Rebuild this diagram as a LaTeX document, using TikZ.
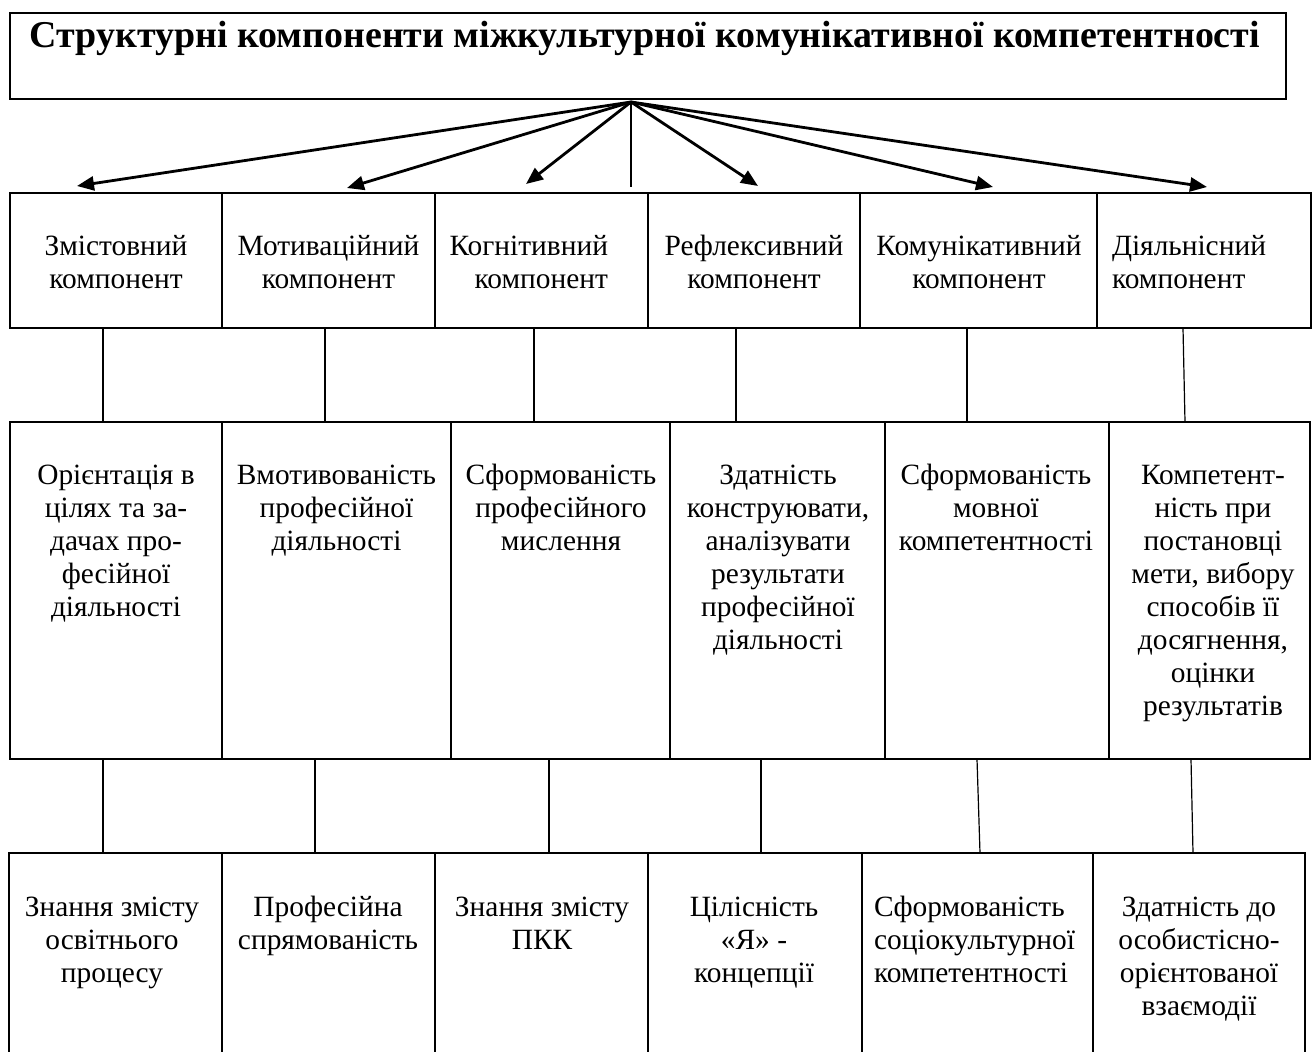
\documentclass[tikz,border=0pt]{standalone}
\usepackage{fontspec}
\setmainfont{Liberation Serif}
\usetikzlibrary{arrows.meta}
\tikzset{
  cell/.style={draw, line width=2pt, inner sep=0pt, outer sep=0pt, anchor=north west},
  lbl/.style={inner sep=0pt, outer sep=0pt, font=\fontsize{29.4}{33}\selectfont},
  ttl/.style={inner sep=0pt, outer sep=0pt, font=\fontsize{37.9}{42}\selectfont\bfseries},
  bigarrow/.style={line width=2.8pt, -{Triangle[length=17pt,width=14pt]}},
  link/.style={line width=1.2pt}
}
\newcommand{\cellbox}[5]{\node[cell, minimum width={#4-#2}, minimum height={#5-#3}] (#1) at (#2,#3) {};}
\begin{document}
\begin{tikzpicture}[x=1pt,y=-1pt]
\clip (0,0) rectangle (1312,1052);
\fill[white] (0,0) rectangle (1312,1052);
% title
\cellbox{title}{10}{13}{1286}{99}
\node[ttl, anchor=base] (titletext) at (645,47) {Структурні компоненти міжкультурної комунікативної компетентності};
% row 1
\cellbox{r1a}{10}{193}{222}{328}
\cellbox{r1b}{222}{193}{435}{328}
\cellbox{r1c}{435}{193}{648}{328}
\cellbox{r1d}{648}{193}{860}{328}
\cellbox{r1e}{860}{193}{1097}{328}
\cellbox{r1f}{1097}{193}{1311}{328}
\node[lbl, anchor=base] (t1a) at (116,255) {\begin{tabular}[t]{@{}c@{}}Змістовний\\компонент\end{tabular}};
\node[lbl, anchor=base] (t1b) at (328.5,255) {\begin{tabular}[t]{@{}c@{}}Мотиваційний\\компонент\end{tabular}};
\node[lbl, anchor=base east] (t1c) at (608,255) {\begin{tabular}[t]{@{}r@{}}Когнітивний\\компонент\end{tabular}};
\node[lbl, anchor=base] (t1d) at (754,255) {\begin{tabular}[t]{@{}c@{}}Рефлексивний\\компонент\end{tabular}};
\node[lbl, anchor=base] (t1e) at (979,255) {\begin{tabular}[t]{@{}c@{}}Комунікативний\\компонент\end{tabular}};
\node[lbl, anchor=base west] (t1f) at (1112,255) {\begin{tabular}[t]{@{}l@{}}Діяльнісний\\компонент\end{tabular}};
% row 2
\cellbox{r2a}{10}{422}{222}{759}
\cellbox{r2b}{222}{422}{451}{759}
\cellbox{r2c}{451}{422}{670}{759}
\cellbox{r2d}{670}{422}{885}{759}
\cellbox{r2e}{885}{422}{1109}{759}
\cellbox{r2f}{1109}{422}{1310}{759}
\node[lbl, anchor=base] (t2a) at (116,484) {\begin{tabular}[t]{@{}c@{}}Орієнтація в\\цілях та за-\\дачах про-\\фесійної\\діяльності\end{tabular}};
\node[lbl, anchor=base] (t2b) at (336.5,484) {\begin{tabular}[t]{@{}c@{}}Вмотивованість\\професійної\\діяльності\end{tabular}};
\node[lbl, anchor=base] (t2c) at (561,484) {\begin{tabular}[t]{@{}c@{}}Сформованість\\професійного\\мислення\end{tabular}};
\node[lbl, anchor=base] (t2d) at (778,484) {\begin{tabular}[t]{@{}c@{}}Здатність\\конструювати,\\аналізувати\\результати\\професійної\\діяльності\end{tabular}};
\node[lbl, anchor=base] (t2e) at (996,484) {\begin{tabular}[t]{@{}c@{}}Сформованість\\мовної\\компетентності\end{tabular}};
\node[lbl, anchor=base] (t2f) at (1213,484) {\begin{tabular}[t]{@{}c@{}}Компетент-\\ність при\\постановці\\мети, вибору\\способів її\\досягнення,\\оцінки\\результатів\end{tabular}};
% row 3
\cellbox{r3a}{9}{853}{222}{1075}
\cellbox{r3b}{222}{853}{435}{1075}
\cellbox{r3c}{435}{853}{648}{1075}
\cellbox{r3d}{648}{853}{862}{1075}
\cellbox{r3e}{862}{853}{1093}{1075}
\cellbox{r3f}{1093}{853}{1305}{1075}
\node[lbl, anchor=base] (t3a) at (112,916) {\begin{tabular}[t]{@{}c@{}}Знання змісту\\освітнього\\процесу\end{tabular}};
\node[lbl, anchor=base] (t3b) at (328,916) {\begin{tabular}[t]{@{}c@{}}Професійна\\спрямованість\end{tabular}};
\node[lbl, anchor=base] (t3c) at (542,916) {\begin{tabular}[t]{@{}c@{}}Знання змісту\\ПКК\end{tabular}};
\node[lbl, anchor=base] (t3d) at (754,916) {\begin{tabular}[t]{@{}c@{}}Цілісність\\«Я» -\\концепції\end{tabular}};
\node[lbl, anchor=base west] (t3e) at (874,916) {\begin{tabular}[t]{@{}l@{}}Сформованість\\соціокультурної\\компетентності\end{tabular}};
\node[lbl, anchor=base] (t3f) at (1199,916) {\begin{tabular}[t]{@{}c@{}}Здатність до\\особистісно-\\орієнтованої\\взаємодії\end{tabular}};
% arrows from title
\coordinate (hub) at ([xshift=-17pt,yshift=-3pt]title.south);
\draw[bigarrow] (hub) -- ([xshift=-39pt,yshift=7pt]r1a.north);
\draw[bigarrow] (hub) -- ([xshift=18.5pt,yshift=5pt]r1b.north);
\draw[bigarrow] (hub) -- ([xshift=-15.5pt,yshift=9pt]r1c.north);
\draw[bigarrow] (hub) -- ([xshift=4pt,yshift=7pt]r1d.north);
\draw[bigarrow] (hub) -- ([xshift=14.5pt,yshift=6pt]r1e.north);
\draw[bigarrow] (hub) -- ([xshift=3pt,yshift=6pt]r1f.north);
\draw[link] (hub) -- ([xshift=89.5pt,yshift=6pt]r1c.north);
% links row 1 -> row 2
\draw[link] ([xshift=-13pt]r1a.south) -- ([xshift=-13pt]r2a.north);
\draw[link] ([xshift=-3.5pt]r1b.south) -- ([xshift=-11.5pt]r2b.north);
\draw[link] ([xshift=-7.5pt]r1c.south) -- ([xshift=-26.5pt]r2c.north);
\draw[link] ([xshift=-18pt]r1d.south) -- ([xshift=-41.5pt]r2d.north);
\draw[link] ([xshift=-11.5pt]r1e.south) -- ([xshift=-30pt]r2e.north);
\draw[link] ([xshift=-21pt]r1f.south) -- ([xshift=-24.5pt]r2f.north);
% links row 2 -> row 3
\draw[link] ([xshift=-13pt]r2a.south) -- ([xshift=-12.5pt]r3a.north);
\draw[link] ([xshift=-21.5pt]r2b.south) -- ([xshift=-13.5pt]r3b.north);
\draw[link] ([xshift=-11.5pt]r2c.south) -- ([xshift=7.5pt]r3c.north);
\draw[link] ([xshift=-16.5pt]r2d.south) -- ([xshift=6pt]r3d.north);
\draw[link] ([xshift=-20pt]r2e.south) -- ([xshift=2.5pt]r3e.north);
\draw[link] ([xshift=-18.5pt]r2f.south) -- ([xshift=-6pt]r3f.north);
\end{tikzpicture}
\end{document}
